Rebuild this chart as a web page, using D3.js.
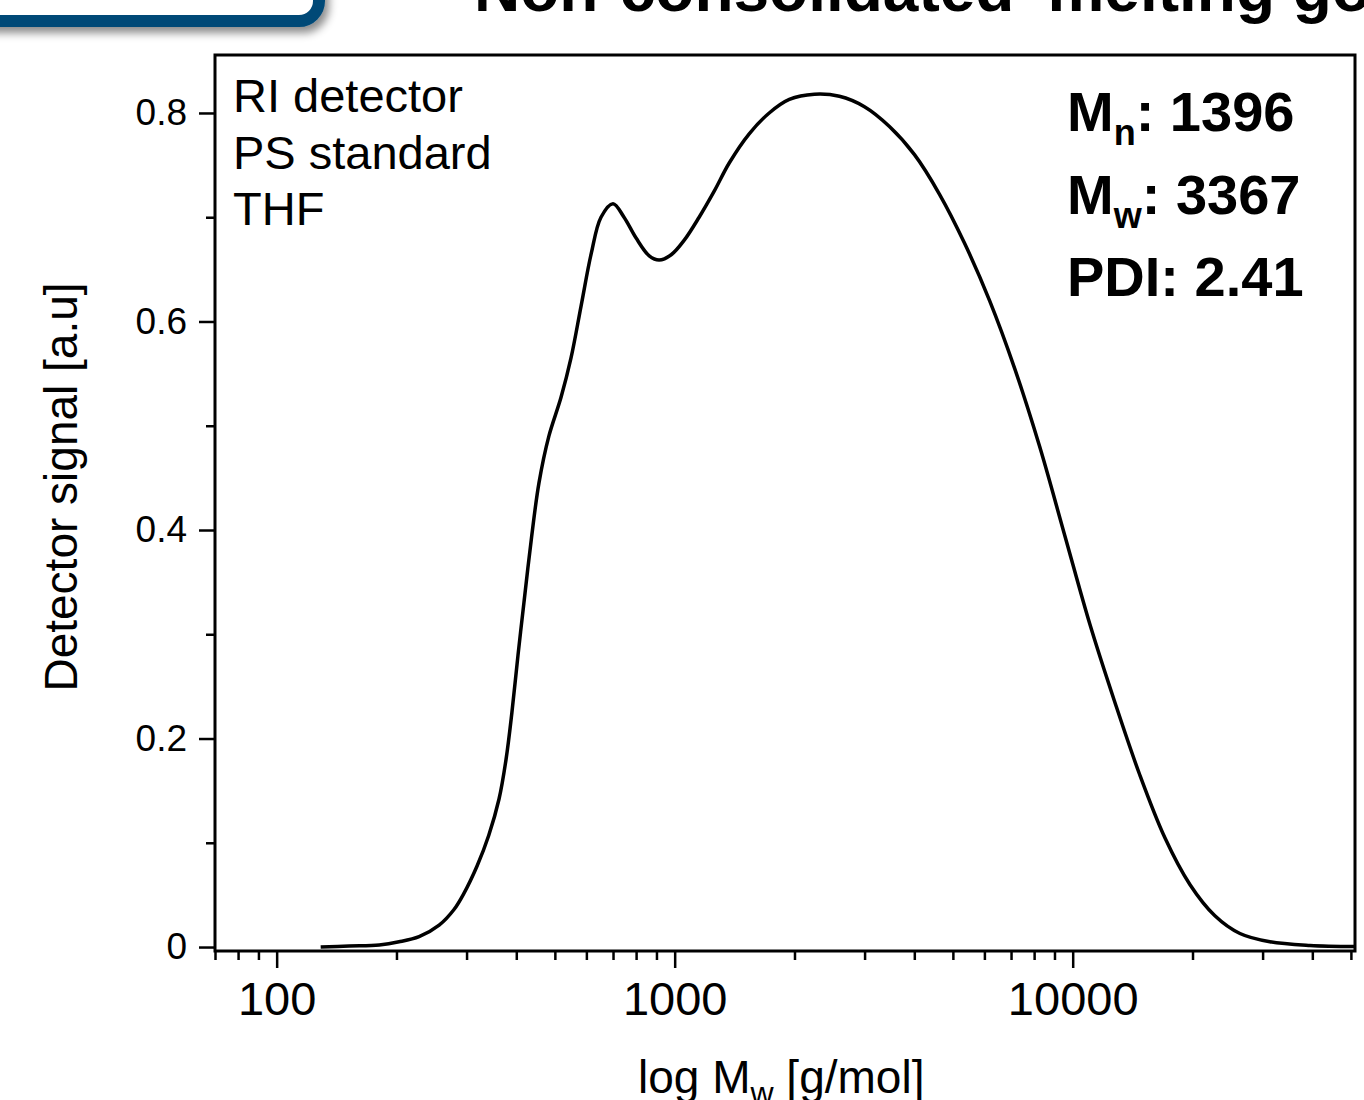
<!DOCTYPE html>
<html lang="en">
    <head>
        <meta charset="utf-8">
        <title>GPC molecular weight distribution</title>
        <script type="text/javascript" src="https://cdn.jsdelivr.net/npm/d3@7"></script>
        <style>
            body { margin: 0; background: #fff; }
            svg { display: block; }
        </style>
    </head>
    <body>
        <script type="text/javascript">

            //Width and height
            var w = 1364;
            var h = 1100;

            //Plot box
            var boxL = 215, boxR = 1355, boxT = 55, boxB = 951;

            //Molar mass (g/mol) and detector signal
            var molarMass = [129, 152, 181, 203, 228, 256, 279, 295, 319, 341,
                             362, 377, 390, 404, 418, 436, 456, 483, 518, 549,
                             582, 617, 653, 700, 746, 800, 863, 914, 980, 1057,
                             1152, 1257, 1371, 1539, 1728, 1941, 2244, 2593, 2998, 3464,
                             4004, 4628, 5350, 6183, 7147, 8260, 9548, 11036, 12756, 14745,
                             17036, 19697, 22765, 26313, 31300, 39470, 51210];
            var signal = [0, 0.001, 0.002, 0.005, 0.010, 0.021, 0.036, 0.051, 0.078, 0.107,
                          0.142, 0.18, 0.225, 0.28, 0.33, 0.39, 0.445, 0.49, 0.527, 0.565,
                          0.615, 0.665, 0.70, 0.713, 0.70, 0.68, 0.663, 0.659, 0.664, 0.678,
                          0.70, 0.725, 0.752, 0.78, 0.80, 0.813, 0.818, 0.816, 0.806, 0.787,
                          0.76, 0.722, 0.675, 0.62, 0.555, 0.48, 0.395, 0.31, 0.235, 0.165,
                          0.105, 0.06, 0.03, 0.013, 0.005, 0.0015, 0.0005];

            //Tick values
            var yMajor = [0, 0.2, 0.4, 0.6, 0.8];
            var yMinor = [0.1, 0.3, 0.5, 0.7];
            var xMajor = [100, 1000, 10000];
            var xMinor = [70, 80, 90, 200, 300, 400, 500, 600, 700, 800, 900,
                          2000, 3000, 4000, 5000, 6000, 7000, 8000, 9000,
                          20000, 30000, 40000, 50000];

            //Text blocks
            var notes = ["RI detector", "PS standard", "THF"];
            var results = [
                { main: "M", sub: "n", rest: ": 1396" },
                { main: "M", sub: "w", rest: ": 3367" },
                { main: "PDI: 2.41", sub: "", rest: "" }
            ];

            var dataset = molarMass.map(function(m, i) {
                return { M: m, S: signal[i] };
            });

            //Scales
            var xScale = d3.scaleLog()
                        .domain([70, 51200])
                        .range([boxL, boxR]);

            var yScale = d3.scaleLinear()
                        .domain([-0.0038, 0.8556])
                        .range([boxB, boxT]);

            //Create SVG element
            var svg = d3.select("body")
                        .append("svg")
                        .attr("width", w)
                        .attr("height", h)
                        .style("font-family", "Arial, 'Liberation Sans', Helvetica, sans-serif");

            //Slide header bits that got cropped into the picture
            var shadow = svg.append("defs")
                        .append("filter")
                        .attr("id", "shade")
                        .attr("x", "-20%").attr("y", "-20%")
                        .attr("width", "140%").attr("height", "160%");
            shadow.append("feDropShadow")
                .attr("dx", 4).attr("dy", 6)
                .attr("stdDeviation", 4)
                .attr("flood-color", "#000")
                .attr("flood-opacity", 0.45);

            svg.append("rect")
                .attr("x", -60)
                .attr("y", -100)
                .attr("width", 379)
                .attr("height", 121)
                .attr("rx", 20)
                .attr("fill", "#fff")
                .attr("stroke", "#044a77")
                .attr("stroke-width", 12)
                .attr("filter", "url(#shade)");

            svg.append("text")
                .attr("x", 474)
                .attr("y", 11)
                .attr("font-size", "64px")
                .attr("font-weight", "bold")
                .text("Non-consolidated 'melting go");

            //Minor ticks (drawn first)
            svg.append("g")
                .attr("transform", "translate(0," + boxB + ")")
                .call(d3.axisBottom(xScale).tickValues(xMinor).tickSize(9).tickFormat(""))
                .call(function(g) { g.select(".domain").remove(); })
                .selectAll("line").attr("stroke-width", 2.5);

            svg.append("g")
                .attr("transform", "translate(" + boxL + ",0)")
                .call(d3.axisLeft(yScale).tickValues(yMinor).tickSize(9).tickFormat(""))
                .call(function(g) { g.select(".domain").remove(); })
                .selectAll("line").attr("stroke-width", 2.5);

            //Major ticks and labels
            var xAxis = svg.append("g")
                .attr("transform", "translate(0," + boxB + ")")
                .call(d3.axisBottom(xScale).tickValues(xMajor).tickSize(17).tickPadding(14)
                        .tickFormat(d3.format("d")));
            xAxis.select(".domain").remove();
            xAxis.selectAll("line").attr("stroke-width", 2.5);
            xAxis.selectAll("text")
                .attr("font-size", "47px")
                .attr("font-family", null)
                .attr("fill", "#000");

            var yAxis = svg.append("g")
                .attr("transform", "translate(" + boxL + ",0)")
                .call(d3.axisLeft(yScale).tickValues(yMajor).tickSize(16).tickPadding(12)
                        .tickFormat(function(d) { return d === 0 ? "0" : d3.format(".1f")(d); }));
            yAxis.select(".domain").remove();
            yAxis.selectAll("line").attr("stroke-width", 2.5);
            yAxis.selectAll("text")
                .attr("font-size", "37px")
                .attr("font-family", null)
                .attr("fill", "#000");

            //Clip for the trace
            svg.append("clipPath")
                .attr("id", "plotArea")
                .append("rect")
                .attr("x", boxL).attr("y", boxT)
                .attr("width", boxR - boxL).attr("height", boxB - boxT);

            //Trace
            var line = d3.line()
                        .x(function(d) { return xScale(d.M); })
                        .y(function(d) { return yScale(d.S); })
                        .curve(d3.curveCatmullRom.alpha(0.5));

            svg.append("path")
                .datum(dataset)
                .attr("d", line)
                .attr("fill", "none")
                .attr("stroke", "#000")
                .attr("stroke-width", 3.5)
                .attr("stroke-linejoin", "round")
                .attr("clip-path", "url(#plotArea)");

            //Frame
            svg.append("rect")
                .attr("x", boxL)
                .attr("y", boxT)
                .attr("width", boxR - boxL)
                .attr("height", boxB - boxT)
                .attr("fill", "none")
                .attr("stroke", "#000")
                .attr("stroke-width", 3);

            //Measurement notes
            svg.selectAll("text.note")
                .data(notes)
                .enter()
                .append("text")
                .attr("class", "note")
                .attr("x", 233)
                .attr("y", function(d, i) { return 112 + i * 56.5; })
                .attr("font-size", "47px")
                .text(function(d) { return d; });

            //Molar mass results
            var res = svg.selectAll("text.result")
                .data(results)
                .enter()
                .append("text")
                .attr("class", "result")
                .attr("x", 1067)
                .attr("y", function(d, i) { return 131 + i * 82.5; })
                .attr("font-size", "56px")
                .attr("font-weight", "bold");
            res.append("tspan").text(function(d) { return d.main; });
            res.append("tspan")
                .attr("font-size", "36px")
                .attr("dy", 14)
                .text(function(d) { return d.sub; });
            res.append("tspan")
                .attr("dy", function(d) { return d.sub ? -14 : 0; })
                .text(function(d) { return d.rest; });

            //Axis titles
            var xt = svg.append("text")
                .attr("x", 638)
                .attr("y", 1093)
                .attr("font-size", "46px");
            xt.append("tspan").text("log M");
            xt.append("tspan").attr("font-size", "32px").attr("dy", 11).text("w");
            xt.append("tspan").attr("dy", -11).text(" [g/mol]");

            svg.append("text")
                .attr("transform", "translate(77,487) rotate(-90)")
                .attr("text-anchor", "middle")
                .attr("font-size", "46px")
                .text("Detector signal [a.u]");

        </script>
    </body>
</html>
